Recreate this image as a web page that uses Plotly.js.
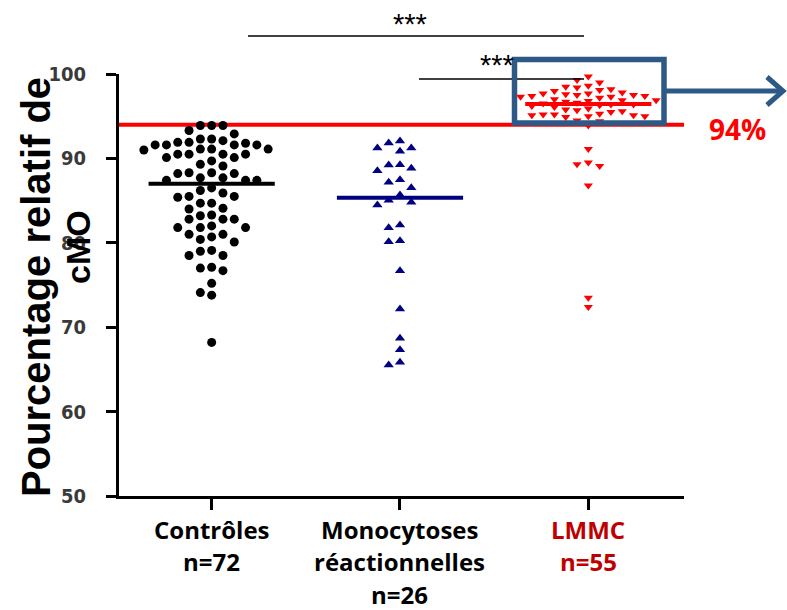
<!DOCTYPE html>
<html>
<head>
<meta charset="utf-8">
<script src="https://cdn.plot.ly/plotly-3.0.1.min.js"></script>
<style>html,body{margin:0;padding:0;background:#fff;}#chart{width:787px;height:610px;}</style>
</head>
<body>
<div id="chart"></div>
<script>
// ---------------- data ----------------
const categories = ['Contrôles', 'Monocytoses<br>réactionnelles', 'LMMC'];
const nLabels = ['n=72', 'n=26', 'n=55'];
const controles = [
  93.9, 93.9, 93.9, 93.3, 92.9, 92.3, 92.3, 92.1, 91.9, 91.9, 91.8,
  91.6, 91.6, 91.6, 91.6, 91.1, 91.1, 91.1, 91.0, 90.5, 90.5, 90.5, 90.5,
  90.1, 90.1, 89.7, 89.3, 89.1, 88.3, 88.3, 88.2, 88.2, 87.7, 87.7,
  87.4, 87.4, 87.4, 86.5, 86.2, 85.9, 85.5, 85.5, 85.4, 84.7, 84.7,
  84.1, 84.0, 83.3, 83.2, 82.8, 82.8, 82.8, 82.0, 81.8, 81.8, 81.8,
  81.0, 81.0, 80.7, 80.4, 80.1, 79.1, 79.0, 78.5, 78.5, 77.1, 77.0,
  76.7, 75.2, 74.1, 73.8, 68.2
];
const monocytoses = [
  92.06, 91.82, 91.23, 91.23, 90.84, 89.26, 89.22, 88.82, 88.55, 87.48,
  87.17, 86.53, 85.66, 85.03, 84.79, 84.48, 82.11, 81.79, 80.25, 80.13,
  76.70, 72.16, 68.68, 67.34, 65.84, 65.52
];
const lmmc = [
  99.7, 99.3, 99.0, 98.6, 98.5, 98.4, 98.2, 98.1, 98.0, 97.8,
  97.7, 97.7, 97.6, 97.5, 97.5, 97.4, 97.4, 97.3, 97.3, 97.2,
  97.0, 96.9, 96.9, 96.8, 96.7, 96.6, 96.5, 96.4, 96.4, 96.3,
  96.2, 96.1, 95.9, 95.8, 95.7, 95.6, 95.5, 95.3, 95.2, 95.2,
  95.1, 95.1, 95.0, 95.0, 94.9, 94.5, 94.4,
  93.9, 91.1, 89.5, 89.3, 89.1, 86.8, 73.5, 72.4
];
const medians = [87.0, 85.35, 96.45];
const seuil = 94;
const seuilLabel = '94%';
const yTicks = [50, 60, 70, 80, 90, 100];
const signif = '***';

// ---------------- geometry ----------------
const W = 787, H = 610;
const M = {l: 119, r: 103, t: 74, b: 114};
const PW = W - M.l - M.r, PH = H - M.t - M.b;
const XR = [0.508, 3.508], YR = [50, 100];
const PXX = PW / (XR[1] - XR[0]);
const PXY = PH / (YR[1] - YR[0]);
const px2x = px => (px - M.l) / PW;
const py2y = py => (H - M.b - py) / PH;

function swarm(values, center, step, dx, dy) {
  const order = values.map((v, i) => i).sort((a, b) => values[b] - values[a]);
  const placed = [];
  const xs = new Array(values.length);
  order.forEach(i => {
    const yp = values[i] * PXY;
    for (let k = 0; k < 400; k++) {
      const n = Math.ceil(k / 2);
      const off = (k === 0 ? 0 : (k % 2 ? -n : n)) * step;
      if (!placed.some(p => Math.abs(p.x - off) < dx && Math.abs(p.y - yp) < dy)) {
        placed.push({x: off, y: yp});
        xs[i] = center + off / PXX;
        break;
      }
    }
  });
  return xs;
}

const groups = [
  {vals: controles, color: '#000000', symbol: 'circle', size: 9, sw: [11.3, 11, 9.5]},
  {vals: monocytoses, color: '#000080', symbol: 'triangle-up', size: 9, sw: [11.3, 11, 10]},
  {vals: lmmc, color: '#ff0000', symbol: 'triangle-down', size: 8, sw: [5.65, 9, 7.5]}
];

const traces = [];
groups.forEach((g, i) => {
  traces.push({
    type: 'scatter', mode: 'markers',
    x: swarm(g.vals, i + 1, g.sw[0], g.sw[1], g.sw[2]), y: g.vals,
    marker: {color: g.color, symbol: g.symbol, size: g.size, line: {width: 0}},
    hoverinfo: 'y', showlegend: false, cliponaxis: false
  });
});
groups.forEach((g, i) => {
  traces.push({
    type: 'scatter', mode: 'lines',
    x: [i + 1 - 0.335, i + 1 + 0.335], y: [medians[i], medians[i]],
    line: {color: g.color, width: 4}, hoverinfo: 'skip', showlegend: false
  });
});

const boxColor = '#2d5986';
const shapes = [
  {type: 'line', xref: 'paper', yref: 'y', x0: 0, x1: 1, y0: seuil, y1: seuil,
   line: {color: '#ff0000', width: 4}, layer: 'below'},
  {type: 'line', xref: 'paper', yref: 'paper', x0: px2x(248), x1: px2x(584), y0: py2y(36), y1: py2y(36),
   line: {color: '#000', width: 1.5}},
  {type: 'line', xref: 'paper', yref: 'paper', x0: px2x(419), x1: px2x(584), y0: py2y(79), y1: py2y(79),
   line: {color: '#000', width: 1.5}},
  {type: 'rect', xref: 'paper', yref: 'paper', x0: px2x(514.5), x1: px2x(664), y0: py2y(123), y1: py2y(59.5),
   line: {color: boxColor, width: 5.5}, fillcolor: 'rgba(0,0,0,0)', layer: 'above'},
  {type: 'path', xref: 'paper', yref: 'paper',
   path: 'M' + px2x(666) + ',' + py2y(91) + ' L' + px2x(782) + ',' + py2y(91),
   line: {color: boxColor, width: 5}},
  {type: 'path', xref: 'paper', yref: 'paper',
   path: 'M' + px2x(767) + ',' + py2y(77) + ' L' + px2x(783) + ',' + py2y(91) + ' L' + px2x(767) + ',' + py2y(105),
   line: {color: boxColor, width: 5}}
];

const labFont = {family: 'Open Sans, Lato, sans-serif', size: 24, weight: 'bold'};
const annotations = [];
categories.forEach((c, i) => {
  const col = i === 2 ? '#c00000' : '#000000';
  const lines = c.split('<br>').concat([nLabels[i]]);
  lines.forEach((t, j) => {
    annotations.push({
      xref: 'x', yref: 'paper', x: i + 1, y: py2y(529 + j * 32.5),
      text: t, showarrow: false, xanchor: 'center', yanchor: 'middle',
      font: Object.assign({}, labFont, {color: col})
    });
  });
});
// significance stars
[[410, 24], [497, 65]].forEach(p => {
  annotations.push({
    xref: 'paper', yref: 'paper', x: px2x(p[0]), y: py2y(p[1]), text: signif, showarrow: false,
    xanchor: 'center', yanchor: 'middle',
    font: {family: 'Liberation Sans, Arial, sans-serif', size: 29, color: '#000'}
  });
});
annotations.push({
  xref: 'paper', yref: 'paper', x: px2x(737), y: py2y(129), text: seuilLabel, showarrow: false,
  xanchor: 'center', yanchor: 'middle',
  font: {family: 'Open Sans, Lato, sans-serif', size: 28, weight: 'bold', color: '#ff0000'}
});
annotations.push({
  xref: 'paper', yref: 'paper', x: px2x(36), y: py2y(287), text: 'Pourcentage relatif de', showarrow: false,
  textangle: -90, xanchor: 'center', yanchor: 'middle',
  font: {family: 'Liberation Sans, Arial, sans-serif', size: 40, weight: 'bold', color: '#000'}
});
annotations.push({
  xref: 'paper', yref: 'paper', x: px2x(78), y: py2y(247), text: 'cMO', showarrow: false,
  textangle: -90, xanchor: 'center', yanchor: 'middle',
  font: {family: 'Liberation Sans, Arial, sans-serif', size: 34, weight: 'bold', color: '#000'}
});

const layout = {
  width: W, height: H, margin: M,
  paper_bgcolor: '#fff', plot_bgcolor: '#fff', showlegend: false,
  xaxis: {range: XR, showgrid: false, zeroline: false, showline: true, linecolor: '#000', linewidth: 3,
          ticks: 'outside', tickvals: [1, 2, 3], ticklen: 11, tickwidth: 3, tickcolor: '#000',
          showticklabels: false, fixedrange: true},
  yaxis: {range: YR, showgrid: false, zeroline: false, showline: true, linecolor: '#000', linewidth: 3,
          ticks: 'outside', tickvals: yTicks, ticktext: yTicks.map(String), ticklen: 10, tickwidth: 3, tickcolor: '#000',
          ticklabelstandoff: 16,
          tickfont: {family: 'DejaVu Sans Condensed, Liberation Sans Narrow, sans-serif', size: 20, weight: 'bold', color: '#3a3a3a'},
          fixedrange: true},
  shapes: shapes, annotations: annotations
};

Plotly.newPlot('chart', traces, layout, {displayModeBar: false, staticPlot: true});
</script>
</body>
</html>
